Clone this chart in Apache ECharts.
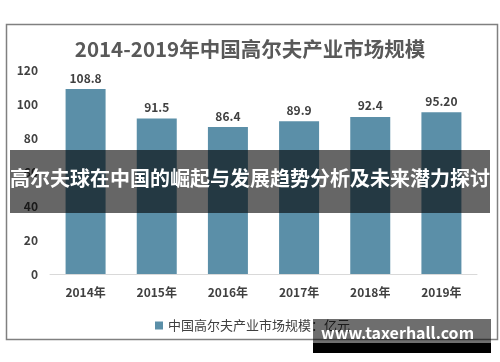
<!DOCTYPE html>
<html>
<head>
<meta charset="utf-8">
<script src="https://cdn.jsdelivr.net/npm/echarts@6/dist/echarts.min.js"></script>
<style>html,body{margin:0;padding:0;background:#fff;}#c{width:500px;height:362px;}</style>
</head>
<body>
<div id="c"></div>
<script>
const categories = ['2014年','2015年','2016年','2017年','2018年','2019年'];
const values = [108.8, 91.5, 86.4, 89.9, 92.4, 95.2];
const valueLabels = ['108.8','91.5','86.4','89.9','92.4','95.20'];
const seriesName = '中国高尔夫产业市场规模：亿元';
const titleText = '2014-2019年中国高尔夫产业市场规模';
const bannerText = '高尔夫球在中国的崛起与发展趋势分析及未来潜力探讨';
const watermarkText = 'www.taxerhall.com';

const font = '"Noto Sans CJK SC", "Noto Sans", sans-serif';
const chart = echarts.init(document.getElementById('c'));
chart.setOption({
  animation: false,
  textStyle: { fontFamily: font },
  title: {
    text: titleText, left: 'center', top: 34,
    textStyle: { fontFamily: font, fontSize: 20.5, fontWeight: 'bold', color: '#595959' }
  },
  legend: {
    data: [seriesName], left: 150, top: 314, itemWidth: 8, itemHeight: 8,
    icon: 'rect',
    textStyle: { fontFamily: font, fontSize: 13, color: '#404040' }
  },
  grid: { left: 50, right: 23, top: 70, bottom: 88 },
  xAxis: {
    type: 'category', data: categories,
    axisLine: { lineStyle: { color: '#d9d9d9', width: 1 } },
    axisTick: { show: false },
    axisLabel: { fontFamily: font, fontSize: 12, fontWeight: 'bold', color: '#404040', margin: 12 }
  },
  yAxis: {
    type: 'value', min: 0, max: 120, interval: 20,
    splitLine: { show: false },
    axisLine: { show: false }, axisTick: { show: false },
    axisLabel: { fontFamily: font, fontSize: 12, fontWeight: 'bold', color: '#404040', margin: 12 }
  },
  series: [{
    name: seriesName, type: 'bar', data: values, barWidth: 40,
    itemStyle: { color: '#5b8fa8' },
    label: {
      show: true, position: 'top', distance: 5,
      fontFamily: font, fontSize: 12, fontWeight: 'bold', color: '#404040',
      formatter: p => valueLabels[p.dataIndex]
    }
  }],
  graphic: [
    { type: 'rect', left: 4, top: 22, shape: { width: 491, height: 315 }, z: 0,
      style: { fill: 'none', stroke: '#808080', lineWidth: 1.5 } },
    { type: 'rect', left: 10, top: 150, shape: { width: 480, height: 63 }, z: 100,
      style: { fill: 'rgba(0,0,0,0.6)' } },
    { type: 'text', left: 'center', top: 168, z: 101,
      style: { text: bannerText, fill: '#fff', font: 'bold 20px ' + font } },
    { type: 'rect', left: 313, top: 319, shape: { width: 178, height: 24 }, z: 100,
      style: { fill: 'rgba(0,0,0,0.57)' } },
    { type: 'rect', left: 313, top: 343, shape: { width: 178, height: 10 }, z: 100,
      style: { fill: '#000' } },
    { type: 'text', left: 321, top: 325, z: 101,
      style: { text: watermarkText, fill: '#fff', font: 'bold 16px ' + font } }
  ]
});
</script>
</body>
</html>
